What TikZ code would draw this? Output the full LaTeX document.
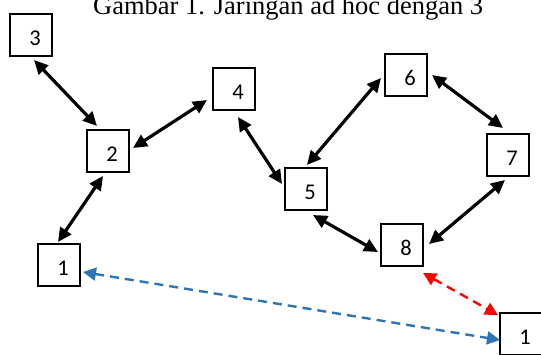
\documentclass[tikz,border=0pt]{standalone}
\usepackage{fontspec}
\setmainfont{Carlito}
\newfontfamily\titlefont{Liberation Serif}
\usetikzlibrary{arrows.meta,calc}

\definecolor{linkblue}{HTML}{2E75B6}
\definecolor{linkred}{HTML}{FF0000}

\tikzset{
  station/.style={draw=black, line width=2.1pt, fill=white, minimum size=42pt,
    inner sep=0pt, text height=20pt, text depth=0pt, font=\fontsize{22.5}{22.5}\selectfont},
  link/.style={line width=3.2pt, {Triangle[length=14pt,width=13pt]}-{Triangle[length=14pt,width=13pt]}},
  weaklink/.style={line width=2.4pt, dash pattern=on 9pt off 6pt,
    {Triangle[length=13pt,width=13pt]}-{Triangle[length=13pt,width=13pt]}},
}
\newcommand{\stn}[1]{\hspace*{8pt}#1}

\begin{document}
\begin{tikzpicture}[x=1pt,y=-1pt]
  \useasboundingbox (0,0) rectangle (541,354);

  % caption, partly cut off at the top edge
  \node[anchor=base west, inner sep=0pt, font=\titlefont\fontsize{26.5}{26.5}\selectfont]
    (caption) at (93,14) {Gambar 1. Jaringan ad hoc dengan 3};

  % stations
  \node[station] (n3)  at (31,35)   {\stn{3}};
  \node[station] (n4)  at (234,89)  {\stn{4}};
  \node[station] (n6)  at (406,75)  {\stn{6}};
  \node[station] (n2)  at (108,151) {\stn{2}};
  \node[station] (n7)  at (508,155) {\stn{7}};
  \node[station] (n5)  at (306,189) {\stn{5}};
  \node[station] (n8)  at (402,245) {\stn{8}};
  \node[station] (n1)  at (59,265)  {\stn{1}};
  \node[station] (n1r) at (521,334) {\stn{1}};

  % ad hoc links
  \draw[link] ($(n3)+(3,25)$)   -- ($(n2)+(-11,-25)$);
  \draw[link] ($(n2)+(25,-3)$)  -- ($(n4)+(-27,11)$);
  \draw[link] ($(n2)+(-5,25)$)  -- ($(n1)+(-1,-23)$);
  \draw[link] ($(n4)+(4,28)$)   -- ($(n5)+(-24,-5)$);
  \draw[link] ($(n5)+(1,-24)$)  -- ($(n6)+(-25,3)$);
  \draw[link] ($(n6)+(26,0)$)   -- ($(n7)+(-5,-27)$);
  \draw[link] ($(n7)+(-3,25)$)  -- ($(n8)+(27,-1)$);
  \draw[link] ($(n5)+(7,26)$)   -- ($(n8)+(-24,7)$);

  % links to the moving station
  \draw[weaklink, linkred]  ($(n8)+(21,28)$) -- ($(n1r)+(-23,-19)$);
  \draw[weaklink, linkblue] ($(n1)+(24,7)$)  -- ($(n1r)+(-21,6)$);
\end{tikzpicture}
\end{document}
